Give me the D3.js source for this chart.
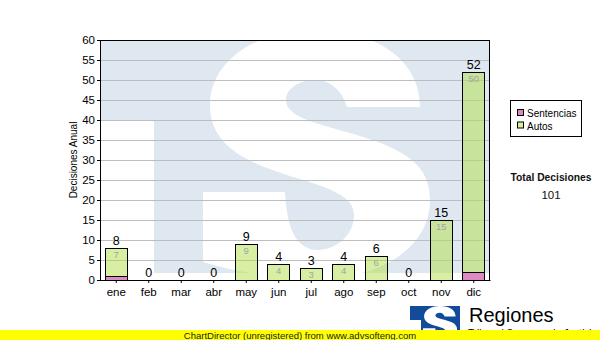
<!DOCTYPE html>
<html><head><meta charset="utf-8">
<script src="https://cdn.jsdelivr.net/npm/d3@7/dist/d3.min.js"></script>
<style>
body{margin:0;background:#fff;}
svg{display:block;font-family:"Liberation Sans",Arial,sans-serif;}
</style>
</head><body>
<svg id="c" width="600" height="340"></svg>
<script>
// ---- data ----
const months = ["ene","feb","mar","abr","may","jun","jul","ago","sep","oct","nov","dic"];
const seriesNames = ["Sentencias","Autos"];
const sentencias = [1,0,0,0,0,0,0,0,0,0,0,2];
const autos = [7,0,0,0,9,4,3,4,6,0,15,50];
const yTicks = [0,5,10,15,20,25,30,35,40,45,50,55,60];
const yTitle = "Decisiones Anual";
const totalTitle = "Total Decisiones";
const footer = "ChartDirector (unregistered) from www.advsofteng.com";
const logoTitle = "Regiones";
const logoSub = "Tribunal Supremo de Justicia";

// ---- layout ----
const svg = d3.select("#c");
const L = 100, R = 490, T = 40, B = 280;
const x = d3.scaleBand().domain(months).range([L, R]).paddingInner(0.28).paddingOuter(0.14);
const y = d3.scaleLinear().domain([0, 60]).range([B, T]);
const colors = {Sentencias: "rgba(190,20,140,0.5)", Autos: "rgba(178,222,78,0.52)"};
const legendColors = {Sentencias: "#dc85c2", Autos: "#d6ee9e"};

// S glyph path (watermark / logo)
const sPath = "M420,107 C420,80 405,52 365,38 C345,32 330,30 315,30 C255,30 210,62 210,105 " +
  "C210,145 245,162 290,176 C330,188 354,196 354,215 C354,236 335,250 318,250 " +
  "C298,250 287,232 285,192 L203,192 L203,262 C235,272 275,278 320,278 " +
  "C385,278 430,245 430,200 C430,165 405,150 360,136 C320,124 286,118 286,100 " +
  "C286,88 300,80 315,80 C330,80 342,90 347,107 Z";

// ---- watermark in plot ----
const defs = svg.append("defs");
defs.append("clipPath").attr("id","plotclip").append("rect")
  .attr("x", L).attr("y", T).attr("width", R - L).attr("height", B - T);
const wm = svg.append("g").attr("clip-path","url(#plotclip)");
wm.append("rect").attr("x", L).attr("y", T).attr("width", R - L).attr("height", B - T).attr("fill", "#fff");
wm.append("rect").attr("x", 0).attr("y", 0).attr("width", 600).attr("height", 273).attr("fill", "#dfe8f1");
wm.append("rect").attr("x", 0).attr("y", 120).attr("width", 154).attr("height", 200).attr("fill", "#fff");
wm.append("path").attr("d", sPath).attr("fill", "#fff");

// ---- grid ----
svg.append("g").selectAll("line").data(yTicks.filter(v => v > 0 && v < 60)).join("line")
  .attr("x1", L).attr("x2", R)
  .attr("y1", d => Math.round(y(d)) + 0.5).attr("y2", d => Math.round(y(d)) + 0.5)
  .attr("stroke", "#bdbdbd").attr("stroke-width", 1);

// ---- bars ----
const rows = months.map((m, i) => ({month: m, Sentencias: sentencias[i], Autos: autos[i]}));
const stack = d3.stack().keys(seriesNames)(rows);
const gb = svg.append("g");
stack.forEach(layer => {
  gb.append("g").selectAll("rect").data(layer.filter(d => d[1] - d[0] > 0)).join("rect")
    .attr("x", d => Math.round(x(d.data.month)) + 0.5)
    .attr("y", d => Math.round(y(d[1])) + 0.5)
    .attr("width", Math.round(x.bandwidth()) - 1)
    .attr("height", d => Math.round(y(d[0])) - Math.round(y(d[1])))
    .attr("fill", colors[layer.key])
    .attr("stroke", "#000").attr("stroke-width", 1);
});

// inside labels (Autos)
const autosLayer = stack[1];
gb.append("g").selectAll("text").data(autosLayer.filter(d => d[1] - d[0] > 0)).join("text")
  .attr("x", d => x(d.data.month) + x.bandwidth() / 2)
  .attr("y", d => y(d[1]) + 10)
  .attr("text-anchor", "middle").attr("font-size", "9.5px").attr("fill", "#a3a3a3")
  .text(d => d[1] - d[0]);

// totals
gb.append("g").selectAll("text").data(rows).join("text")
  .attr("x", d => x(d.month) + x.bandwidth() / 2)
  .attr("y", d => y(d.Sentencias + d.Autos) - 3)
  .attr("text-anchor", "middle").attr("font-size", "12.5px").attr("fill", "#000")
  .text(d => d.Sentencias + d.Autos);

// ---- frame & axes ----
svg.append("rect").attr("x", L + 0.5).attr("y", T + 0.5).attr("width", R - L - 1).attr("height", B - T)
  .attr("fill", "none").attr("stroke", "#000");

const ya = svg.append("g").attr("transform", `translate(${L},0)`)
  .call(d3.axisLeft(y).tickValues(yTicks).tickSize(3).tickSizeOuter(0).tickPadding(2));
ya.selectAll("text").attr("font-size", "11.5px").attr("fill", "#000").attr("font-family", "Liberation Sans, Arial, sans-serif");
ya.select(".domain").attr("stroke", "#000");
const xa = svg.append("g").attr("transform", `translate(0,${B})`)
  .call(d3.axisBottom(x).tickSize(3).tickSizeOuter(0).tickPadding(5));
xa.selectAll("text").attr("font-size", "11.5px").attr("fill", "#000").attr("font-family", "Liberation Sans, Arial, sans-serif");
xa.select(".domain").attr("stroke", "#000");

svg.append("text").attr("transform", "translate(77,160) rotate(-90)")
  .attr("text-anchor", "middle").attr("font-size", "10px").attr("fill", "#000").text(yTitle);

// ---- legend ----
const lg = svg.append("g");
lg.append("rect").attr("x", 510.5).attr("y", 100.5).attr("width", 71).attr("height", 36)
  .attr("fill", "#fff").attr("stroke", "#000");
seriesNames.forEach((s, i) => {
  lg.append("rect").attr("x", 517.5).attr("y", 109.5 + i * 12.5).attr("width", 6).attr("height", 6)
    .attr("fill", legendColors[s]).attr("stroke", "#000");
  lg.append("text").attr("x", 527).attr("y", 117 + i * 12.5).attr("font-size", "10px").attr("fill", "#000").text(s);
});

// ---- total ----
const total = d3.sum(sentencias) + d3.sum(autos);
svg.append("text").attr("x", 551).attr("y", 181).attr("text-anchor", "middle")
  .attr("font-size", "10.3px").attr("font-weight", "bold").attr("fill", "#111").text(totalTitle);
svg.append("text").attr("x", 551).attr("y", 199).attr("text-anchor", "middle")
  .attr("font-size", "11.5px").attr("fill", "#111").text(total);

// ---- logo ----
const lgo = svg.append("g");
lgo.append("rect").attr("x", 410).attr("y", 306).attr("width", 50).attr("height", 34).attr("fill", "#134b9b");
lgo.append("rect").attr("x", 410).attr("y", 320).attr("width", 11).attr("height", 20).attr("fill", "#fff");
lgo.append("path").attr("d", sPath).attr("fill", "#fff")
  .attr("transform", "translate(423,306) scale(0.15,0.137) translate(-203,-30)");
svg.append("text").attr("x", 469).attr("y", 322).attr("font-size", "20px").attr("fill", "#000").text(logoTitle);
svg.append("text").attr("x", 468).attr("y", 337).attr("font-size", "10px").attr("fill", "#000").text(logoSub);

// ---- footer ----
svg.append("rect").attr("x", 0).attr("y", 330).attr("width", 600).attr("height", 10).attr("fill", "#ffff00");
svg.append("text").attr("x", 300).attr("y", 338.5).attr("text-anchor", "middle")
  .attr("font-size", "9.5px").attr("fill", "#222").text(footer);
</script>
</body></html>
